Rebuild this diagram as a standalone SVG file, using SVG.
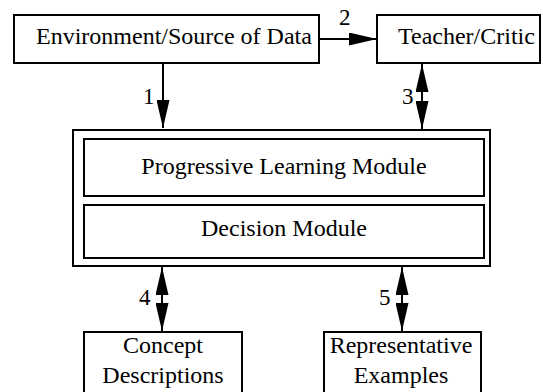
<svg xmlns="http://www.w3.org/2000/svg" width="543" height="392" viewBox="0 0 543 392">
  <style>
    .box { fill: #fff; stroke: #000; stroke-width: 2; }
    .lbl { font-family: "Liberation Serif", "Times New Roman", serif; font-size: 24px; fill: #000; }
    .mid { text-anchor: middle; }
    .num { font-family: "Liberation Serif", "Times New Roman", serif; font-size: 23px; fill: #000; }
    .wire { stroke: #000; stroke-width: 2; fill: none; }
  </style>
  <defs>
    <marker id="head" markerUnits="userSpaceOnUse" markerWidth="28" markerHeight="13" refX="28" refY="6.5" orient="auto-start-reverse">
      <path d="M0,0 L28,6.5 L0,13 z" fill="#000"/>
    </marker>
  </defs>
  <rect width="543" height="392" fill="#fff"/>

  <g id="env">
    <rect class="box" x="14" y="15" width="305" height="48"/>
    <text class="lbl" x="36" y="44">Environment/Source of Data</text>
  </g>

  <g id="teacher">
    <rect class="box" x="377" y="15" width="163" height="48"/>
    <text class="lbl" x="398" y="44">Teacher/Critic</text>
  </g>

  <g id="learner">
    <rect class="box" x="73" y="130" width="417" height="136"/>
    <g id="progressive">
      <rect class="box" x="84" y="139" width="400" height="57"/>
      <text class="lbl mid" x="284" y="174">Progressive Learning Module</text>
    </g>
    <g id="decision">
      <rect class="box" x="84" y="205" width="400" height="53"/>
      <text class="lbl mid" x="284" y="236">Decision Module</text>
    </g>
  </g>

  <g id="concepts">
    <rect class="box" x="84" y="332" width="158" height="70"/>
    <text class="lbl mid" x="163" y="353">Concept</text>
    <text class="lbl mid" x="163" y="383">Descriptions</text>
  </g>

  <g id="examples">
    <rect class="box" x="324" y="332" width="157" height="70"/>
    <text class="lbl mid" x="401" y="353">Representative</text>
    <text class="lbl mid" x="401" y="383">Examples</text>
  </g>

  <g id="connectors">
    <line class="wire" x1="163" y1="63" x2="163" y2="128" marker-end="url(#head)"/>
    <text class="num" x="143" y="104">1</text>
    <line class="wire" x1="319" y1="39" x2="377" y2="39" marker-end="url(#head)"/>
    <text class="num" x="339" y="25">2</text>
    <line class="wire" x1="422" y1="64" x2="422" y2="129" marker-start="url(#head)" marker-end="url(#head)"/>
    <text class="num" x="402" y="104">3</text>
    <line class="wire" x1="162" y1="267" x2="162" y2="331" marker-start="url(#head)" marker-end="url(#head)"/>
    <text class="num" x="139" y="305">4</text>
    <line class="wire" x1="402" y1="267" x2="402" y2="331" marker-start="url(#head)" marker-end="url(#head)"/>
    <text class="num" x="379" y="305">5</text>
  </g>
</svg>
